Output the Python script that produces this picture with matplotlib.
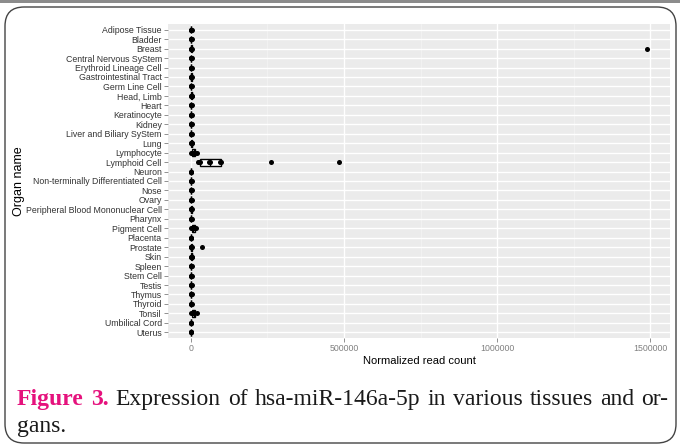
import matplotlib
matplotlib.use("Agg")
import matplotlib.pyplot as plt
from matplotlib.patches import FancyBboxPatch, Rectangle
import numpy as np

W, H, DPI = 680, 446, 100

organs = ["Adipose Tissue", "Bladder", "Breast", "Central Nervous SyStem",
          "Erythroid Lineage Cell", "Gastrointestinal Tract", "Germ Line Cell",
          "Head, Limb", "Heart", "Keratinocyte", "Kidney",
          "Liver and Biliary SyStem", "Lung", "Lymphocyte", "Lymphoid Cell",
          "Neuron", "Non-terminally Differentiated Cell", "Nose", "Ovary",
          "Peripheral Blood Mononuclear Cell", "Pharynx", "Pigment Cell",
          "Placenta", "Prostate", "Skin", "Spleen", "Stem Cell", "Testis",
          "Thymus", "Thyroid", "Tonsil", "Umbilical Cord", "Uterus"]

counts = {
    "Adipose Tissue": [0, 500, 1200, 2500],
    "Bladder": [0, 800, 1800, 3000],
    "Breast": [0, 900, 2000, 3500, 1490000],
    "Central Nervous SyStem": [0, 600, 1500, 2800],
    "Erythroid Lineage Cell": [0, 700, 1600, 3000],
    "Gastrointestinal Tract": [0, 900, 2200, 3800],
    "Germ Line Cell": [0, 500, 1300, 2500],
    "Head, Limb": [0, 1500, 3000, 4500],
    "Heart": [0, 600, 1400, 2600],
    "Keratinocyte": [0, 700, 1500, 2800],
    "Kidney": [0, 500, 1200, 2400],
    "Liver and Biliary SyStem": [0, 600, 1400, 2700],
    "Lung": [0, 1500, 3000, 4800],
    "Lymphocyte": [1000, 4000, 9000, 15000, 20000],
    "Lymphoid Cell": [22000, 26000, 30000, 58700, 62000, 94600, 98000,
                      261000, 483000],
    "Neuron": [0, 500, 1100, 2200],
    "Non-terminally Differentiated Cell": [0, 600, 1300, 2500],
    "Nose": [0, 500, 1200, 2300],
    "Ovary": [0, 700, 1500, 2800],
    "Peripheral Blood Mononuclear Cell": [0, 900, 2000, 3600],
    "Pharynx": [0, 600, 1300, 2500],
    "Pigment Cell": [1000, 5000, 11000, 18000],
    "Placenta": [0, 400, 1000, 2000],
    "Prostate": [0, 800, 1800, 3000, 36000],
    "Skin": [0, 1500, 3200, 5000],
    "Spleen": [0, 600, 1400, 2700],
    "Stem Cell": [0, 600, 1500, 2800],
    "Testis": [0, 700, 1600, 2900],
    "Thymus": [0, 800, 1800, 3200],
    "Thyroid": [0, 600, 1400, 2600],
    "Tonsil": [1000, 6000, 12000, 19000],
    "Umbilical Cord": [0, 400, 1000, 2000],
    "Uterus": [0, 500, 1100, 2200],
}

x_ticks = [0, 500000, 1000000, 1500000]
x_ticklabels = ["0", "500000", "1000000", "1500000"]
x_minor = [250000, 750000, 1250000]

fig = plt.figure(figsize=(W / DPI, H / DPI), dpi=DPI)
fig.patch.set_facecolor("white")

# outer decorations
fig.add_artist(Rectangle((0, 1 - 3 / H), 1, 3 / H, transform=fig.transFigure,
                         facecolor="#8c8c8c", edgecolor="none"))
fig.add_artist(FancyBboxPatch((5 / W, 3 / H), 671 / W, 436 / H,
                              boxstyle="round,pad=0,rounding_size=0.028",
                              transform=fig.transFigure, facecolor="none",
                              edgecolor="#444444", linewidth=1.0,
                              mutation_aspect=W / H))

ax = fig.add_axes([168 / W, 1 - 338 / H, (670 - 168) / W, (338 - 24) / H])
ax.set_facecolor("#EBEBEB")
n = len(organs)
positions = [n - i for i in range(n)]
data = [counts[o] for o in organs]

ax.boxplot(data, positions=positions, vert=False, widths=0.75,
           showfliers=False, patch_artist=True, whis=1.5,
           boxprops=dict(facecolor="white", edgecolor="black", linewidth=1.0),
           medianprops=dict(color="black", linewidth=1.0),
           whiskerprops=dict(color="black", linewidth=1.0),
           capprops=dict(linewidth=0), zorder=3)

for p, vals in zip(positions, data):
    ax.scatter(vals, [p] * len(vals), s=13, color="black", zorder=4,
               linewidths=0)

xmin, xmax = -74500, 1564500
ax.set_xlim(xmin, xmax)
ax.set_ylim(0.4, n + 0.6)
ax.set_xticks(x_ticks)
ax.set_xticklabels(x_ticklabels)
ax.set_xticks(x_minor, minor=True)
ax.set_yticks(positions)
ax.set_yticklabels(organs)

ax.grid(True, which="major", color="white", linewidth=1.0, zorder=0)
ax.grid(True, which="minor", axis="x", color="#F5F5F5", linewidth=0.5, zorder=0)
ax.set_axisbelow(True)
for s in ax.spines.values():
    s.set_visible(False)

ax.tick_params(axis="both", which="major", length=3, width=0.6,
               color="#7f7f7f", pad=1.5)
ax.tick_params(axis="x", which="minor", length=0)
for lab in ax.get_yticklabels():
    lab.set_fontfamily("Liberation Sans")
    lab.set_fontsize(6.3)
    lab.set_color("#333333")
for lab in ax.get_xticklabels():
    lab.set_fontfamily("Liberation Sans")
    lab.set_fontsize(6.3)
    lab.set_color("#808080")

ax.set_xlabel("Normalized read count", fontfamily="Liberation Sans",
              fontsize=8, color="black", labelpad=2)
ax.set_ylabel("Organ name", fontfamily="Liberation Sans", fontsize=9,
              color="black", labelpad=0.5)

# caption (justified first line)
renderer = fig.canvas.get_renderer()
cap_size = 17
magenta = "#E5127D"
line1_words = [("Figure", True), ("3.", True), ("Expression", False),
               ("of", False), ("hsa-miR-146a-5p", False), ("in", False),
               ("various", False), ("tissues", False), ("and", False),
               ("or-", False)]
x_left, x_right = 17, 668
y1 = 1 - 405 / H
y2 = 1 - 432 / H
texts = []
widths = []
for w, bold in line1_words:
    t = fig.text(0, y1, w, fontfamily="Liberation Serif", fontsize=cap_size,
                 fontweight="bold" if bold else "normal",
                 color=magenta if bold else "#1a1a1a", ha="left",
                 va="baseline")
    bb = t.get_window_extent(renderer=renderer)
    texts.append(t)
    widths.append(bb.width)
gap = (x_right - x_left - sum(widths)) / (len(texts) - 1)
cur = x_left
for t, wd in zip(texts, widths):
    t.set_x(cur / W)
    cur += wd + gap
fig.text(x_left / W, y2, "gans.", fontfamily="Liberation Serif",
         fontsize=cap_size, color="#1a1a1a", ha="left", va="baseline")

fig.savefig("out.png", dpi=DPI)
